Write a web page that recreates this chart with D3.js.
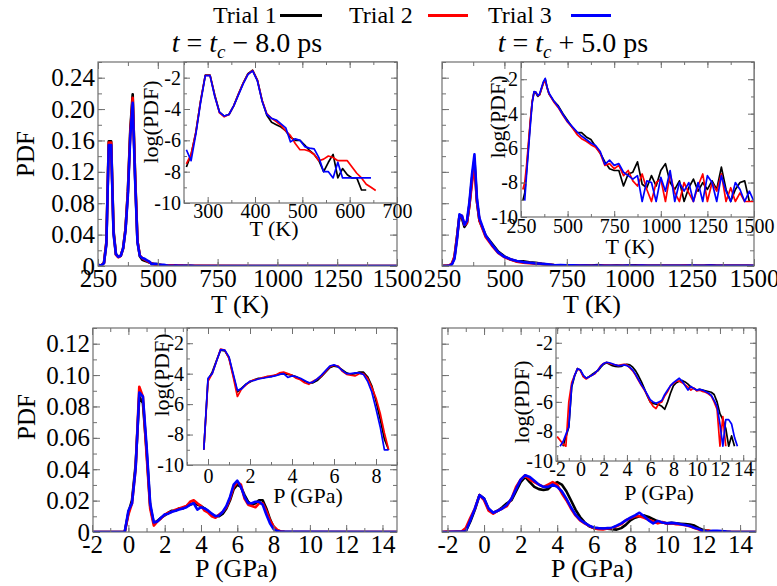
<!DOCTYPE html>
<html>
<head>
<meta charset="utf-8">
<script src="https://cdn.jsdelivr.net/npm/d3@7"></script>
<style>
  body { margin: 0; background: #fff; }
  svg { display: block; }
</style>
</head>
<body>
<div id="chart"></div>
<script>
//*************************1. Data

const trialNames = ["Trial 1", "Trial 2", "Trial 3"];
const trialColors = ["#000000", "#ff0000", "#0000ff"];
const titleShifts = ["− 8.0 ps", "+ 5.0 ps"];

// temperature bins, t = tc - 8 ps   (values are ln(PDF))
const tempGridA = [255,265,275,285,295,305,315,325,335,345,355,365,375,385,395,405,415,425,435,445,
                   455,465,475,485,495,505,515,525,535,545,555,565,575,585,595,605,615,625,635,645,655];
const lnPdfA1 = [-7.7,-6.9,-5.5,-3.5,-1.84,-1.84,-3.1,-4.2,-4.45,-4.35,-3.8,-3.05,-2.35,-1.75,-1.52,-2.15,-3.45,-4.4,-4.85,-5.0,
                 -5.15,-5.4,-5.8,-6.0,-6.0,-6.3,-6.65,-6.9,-7.3,-8.0,-7.4,-6.9,-8.4,-7.8,-8.2,-8.4,-8.4,-9.17,-9.17,null,null];
const lnPdfA2 = [-7.5,-6.9,-5.5,-3.5,-1.85,-1.85,-3.15,-4.25,-4.5,-4.35,-3.8,-3.05,-2.35,-1.77,-1.54,-2.15,-3.45,-4.3,-4.6,-4.8,
                 -5.05,-5.4,-5.7,-6.2,-6.6,-6.6,-6.7,-6.9,-7.3,-7.2,-7.0,-7.1,-7.3,-7.3,-7.3,-7.7,-8.1,-8.4,-8.8,-9.0,-9.2];
const lnPdfA3 = [-6.6,-7.3,-5.6,-3.6,-1.87,-1.87,-3.2,-4.2,-4.45,-4.35,-3.8,-3.1,-2.4,-1.8,-1.57,-2.2,-3.5,-4.35,-4.6,-4.7,
                 -4.95,-5.2,-6.1,-5.9,-6.0,-6.4,-6.5,-6.55,-7.1,-8.0,-8.0,-8.4,-7.4,-8.4,-8.4,-8.4,-8.4,-8.4,-8.4,-8.4,null];

// temperature bins, t = tc + 5 ps
const tempGridB = [260,270,280,290,300,310,320,330,340,350,360,370,380,390,400,
                   425,450,475,500,525,550,575,600,625,650,675,700,725,750,
                   775,800,825,850,875,900,925,950,975,1000,1025,1050,1075,1100,1125,1150,1175,1200,1225,1250,
                   1275,1300,1325,1350,1375,1400,1425,1450,1475,1500];
const lnPdfB1 = [-9.05,-8.6,-7.3,-5.9,-4.5,-3.3,-2.75,-2.8,-3.0,-2.9,-2.55,-2.2,-2.0,-2.5,-2.85,
                 -3.25,-3.55,-4.0,-4.4,-4.8,-5.1,-5.1,-5.35,-5.5,-5.9,-6.3,-6.8,-7.2,-7.3,
                 -7.3,-8.2,-7.5,-7.4,-6.8,-8.1,-8.3,-7.6,-8.2,-7.3,-6.9,-8.0,-8.4,-7.9,-9.1,-8.3,-7.8,-8.5,-8.0,-8.4,
                 -7.9,-8.4,-7.1,-8.4,-9.1,-8.4,-8.0,-7.9,-9.1,null];
const lnPdfB2 = [-8.4,-8.0,-7.0,-5.7,-4.4,-3.3,-2.75,-2.75,-2.95,-2.9,-2.55,-2.25,-2.05,-2.5,-2.85,
                 -3.3,-3.65,-4.1,-4.5,-4.8,-5.2,-5.45,-5.6,-5.8,-5.95,-6.3,-7.0,-6.9,-7.2,
                 -7.0,-7.6,-7.3,-7.9,-8.2,-7.5,-8.4,-9.1,-8.0,-7.8,-9.1,-7.5,-8.6,-9.1,-8.0,-8.6,-9.1,-8.2,-7.5,-9.1,
                 -8.0,-8.5,-7.5,-9.1,-8.3,-9.1,-8.6,-9.1,-9.1,-9.1];
const lnPdfB3 = [null,-9.05,-7.5,-6.1,-4.7,-3.4,-2.72,-2.75,-2.95,-2.85,-2.5,-2.15,-1.95,-2.45,-2.8,
                 -3.25,-3.6,-4.05,-4.45,-4.75,-5.05,-5.3,-5.5,-5.7,-5.85,-6.2,-6.95,-6.7,-7.0,
                 -6.9,-7.4,-7.6,-7.8,-7.6,-9.1,-7.9,-8.0,-9.1,-7.7,-8.5,-7.3,-9.1,-8.0,-8.5,-8.0,-9.1,-8.0,-9.1,-7.6,
                 -8.0,-9.1,-7.6,-8.5,-9.1,-8.0,-8.4,-9.1,-8.5,-9.1];

// pressure bins, t = tc - 8 ps
const presGridC = [-0.2,0,0.2,0.4,0.6,0.8,1,1.2,1.4,1.6,1.8,2,2.2,2.4,2.6,2.8,3,3.2,3.4,3.6,3.8,4,4.2,
                   4.4,4.6,4.8,5,5.2,5.4,5.6,5.8,6,6.2,6.4,6.6,6.8,7,7.2,7.4,7.6,7.8,8,8.2,8.4,8.6];
const lnPdfC1 = [-9.0,-4.4,-3.9,-3.15,-2.45,-2.5,-2.95,-4.1,-5.2,-4.95,-4.7,-4.55,-4.4,-4.3,-4.3,-4.2,-4.2,-4.1,-4.05,-4.0,-4.05,-4.1,-4.2,
                 -4.35,-4.5,-4.6,-4.6,-4.45,-4.2,-3.9,-3.6,-3.5,-3.55,-3.75,-3.95,-4.05,-4.0,-3.9,-3.9,-4.2,-4.8,-5.8,-7.0,-8.3,-9.0];
const lnPdfC2 = [-9.0,-4.5,-4.0,-3.2,-2.38,-2.45,-3.0,-4.2,-5.5,-5.0,-4.75,-4.5,-4.4,-4.35,-4.25,-4.2,-4.15,-4.1,-3.95,-3.9,-4.0,-4.1,-4.3,
                 -4.4,-4.6,-4.7,-4.5,-4.35,-4.15,-3.85,-3.55,-3.45,-3.5,-3.85,-4.05,-4.1,-4.15,-4.0,-4.0,-4.3,-4.9,-5.6,-6.6,-7.9,-9.0];
const lnPdfC3 = [-9.0,-4.3,-4.0,-3.2,-2.42,-2.45,-2.9,-4.0,-5.1,-5.0,-4.7,-4.5,-4.45,-4.35,-4.3,-4.25,-4.2,-4.15,-4.05,-4.0,-4.25,-4.15,-4.2,
                 -4.3,-4.45,-4.6,-4.55,-4.35,-4.1,-3.8,-3.5,-3.42,-3.55,-3.8,-4.0,-4.0,-3.95,-3.95,-4.05,-4.5,-5.2,-6.3,-7.5,-9.0,-9.0];

// pressure bins, t = tc + 5 ps
const presGridD = [-2,-1.75,-1.5,-1.25,-1,-0.75,-0.5,-0.25,0,0.25,0.5,0.75,1,1.25,1.5,1.75,2,2.25,2.5,2.75,3,3.25,3.5,3.75,
                   4,4.25,4.5,4.75,5,5.25,5.5,5.75,6,6.25,6.5,6.75,7,7.25,7.5,7.75,8,8.25,8.5,8.75,9,9.25,9.5,9.75,
                   10,10.25,10.5,10.75,11,11.25,11.5,11.75,12,12.25,12.5,12.75,13,13.25,13.5];
const lnPdfD1 = [null,null,-9.0,-8.4,-7.7,-5.0,-4.25,-3.75,-3.85,-4.25,-4.4,-4.3,-4.15,-4.0,-3.9,-3.65,-3.45,-3.35,-3.45,-3.55,-3.6,-3.62,-3.6,-3.5,
                 -3.45,-3.5,-3.65,-3.9,-4.25,-4.65,-5.1,-5.6,-6.0,-6.1,-6.15,-6.2,-6.3,-6.5,-6.0,-5.4,-4.9,-4.7,-4.6,-4.55,-4.65,-4.8,-5.0,-5.1,
                 -5.2,-5.15,-5.2,-5.25,-5.3,-5.35,-5.5,-6.0,-6.8,-7.2,-7.8,-9.0,-8.3,-9.0,null];
const lnPdfD2 = [-8.35,-8.6,-8.85,-9.0,-6.0,-4.7,-4.2,-3.75,-3.9,-4.3,-4.45,-4.3,-4.2,-4.1,-3.85,-3.55,-3.4,-3.32,-3.4,-3.45,-3.5,-3.55,-3.5,-3.45,
                 -3.5,-3.7,-3.9,-4.2,-4.55,-4.9,-5.2,-5.55,-6.0,-6.3,-6.45,-6.1,-6.0,-5.6,-5.3,-4.9,-4.75,-4.6,-4.6,-4.7,-4.85,-5.0,-5.2,-5.05,
                 -5.25,-5.2,-5.3,-5.35,-5.45,-5.6,-6.0,-6.5,-9.0,-7.0,-9.0,null,null,null,null];
const lnPdfD3 = [null,-9.0,-8.7,-8.2,-7.7,-4.9,-4.2,-3.75,-3.85,-4.2,-4.4,-4.3,-4.2,-4.05,-3.85,-3.6,-3.4,-3.32,-3.35,-3.42,-3.5,-3.55,-3.55,-3.5,
                 -3.55,-3.65,-3.85,-4.15,-4.5,-4.85,-5.15,-5.5,-5.85,-6.0,-6.1,-6.0,-5.9,-5.5,-5.2,-4.9,-4.7,-4.55,-4.4,-4.6,-4.9,-5.2,-4.95,-5.1,
                 -5.2,-5.15,-5.2,-5.3,-5.4,-5.55,-5.9,-6.3,-7.5,-9.0,-7.2,-7.2,-7.5,-8.4,-9.0];

// tick labels
const tempTicksMain = [250, 500, 750, 1000, 1250, 1500];
const tempTicksInsetA = [300, 400, 500, 600, 700];
const tempTicksInsetB = [250, 500, 750, 1000, 1250, 1500];
const presTicksMain = [-2, 0, 2, 4, 6, 8, 10, 12, 14];
const presTicksInsetC = [0, 2, 4, 6, 8];
const presTicksInsetD = [-2, 0, 2, 4, 6, 8, 10, 12, 14];
const pdfTicksTop = [0, 0.04, 0.08, 0.12, 0.16, 0.20, 0.24];
const pdfTicksBottom = [0, 0.02, 0.04, 0.06, 0.08, 0.10, 0.12];
const logTicks = [-10, -8, -6, -4, -2];

//*************************2. Layout

const panels = [
  { grid: tempGridA, series: [lnPdfA1, lnPdfA2, lnPdfA3], xTitle: "T (K)", yTitle: true,
    main: { x0: 98, x1: 397, y0: 62, y1: 266, xDom: [250, 1500], yDom: [0, 0.26],
            xTicks: tempTicksMain, xMinor: [250, 1500, 125], yTicks: pdfTicksTop, yMinor: [0, 0.26, 0.02],
            yLabels: true, xPad: 3, titleX: 240, titleY: 313, yTitleX: 25, yTitleY: 154 },
    inset: { x0: 184, x1: 397, y0: 62, y1: 203, xDom: [250, 700], yDom: [-10, -1],
             xTicks: tempTicksInsetA, xMinor: [250, 700, 50], yTicks: logTicks, yMinor: [-10, -1, 1],
             xPad: 1, titleX: 274, titleY: 236, yTitleX: 150, yTitleY: 122 } },
  { grid: tempGridB, series: [lnPdfB1, lnPdfB2, lnPdfB3], xTitle: "T (K)", yTitle: false,
    main: { x0: 442, x1: 754, y0: 62, y1: 266, xDom: [250, 1500], yDom: [0, 0.26],
            xTicks: tempTicksMain, xMinor: [250, 1500, 125], yTicks: pdfTicksTop, yMinor: [0, 0.26, 0.02],
            yLabels: false, xPad: 3, titleX: 592, titleY: 313 },
    inset: { x0: 521, x1: 754, y0: 62, y1: 217, xDom: [250, 1500], yDom: [-10, -1],
             xTicks: tempTicksInsetB, xMinor: [250, 1500, 125], yTicks: logTicks, yMinor: [-10, -1, 1],
             xPad: 2, titleX: 630, titleY: 254, yTitleX: 497, yTitleY: 117 } },
  { grid: presGridC, series: [lnPdfC1, lnPdfC2, lnPdfC3], xTitle: "P (GPa)", yTitle: true,
    main: { x0: 93, x1: 397, y0: 328, y1: 532, xDom: [-1.95, 14.8], yDom: [0, 0.13],
            xTicks: presTicksMain, xMinor: [-1, 14, 1], yTicks: pdfTicksBottom, yMinor: [0, 0.13, 0.01],
            yLabels: true, xPad: 3, titleX: 236, titleY: 577, yTitleX: 26, yTitleY: 417 },
    inset: { x0: 187, x1: 397, y0: 328, y1: 465, xDom: [-1, 9], yDom: [-10, -1],
             xTicks: presTicksInsetC, xMinor: [-1, 9, 1], yTicks: logTicks, yMinor: [-10, -1, 1],
             xPad: 4, titleX: 308, titleY: 503, yTitleX: 161, yTitleY: 375 } },
  { grid: presGridD, series: [lnPdfD1, lnPdfD2, lnPdfD3], xTitle: "P (GPa)", yTitle: false,
    main: { x0: 442, x1: 756, y0: 328, y1: 532, xDom: [-2.3, 14.87], yDom: [0, 0.13],
            xTicks: presTicksMain, xMinor: [-2, 14, 1], yTicks: pdfTicksBottom, yMinor: [0, 0.13, 0.01],
            yLabels: false, xPad: 3, titleX: 592, titleY: 577 },
    inset: { x0: 556, x1: 756, y0: 328, y1: 461, xDom: [-2.1, 15.1], yDom: [-10, -1],
             xTicks: presTicksInsetD, xMinor: [-2, 15, 1], yTicks: logTicks, yMinor: [-10, -1, 1],
             xPad: 1, titleX: 659, titleY: 500, yTitleX: 521, yTitleY: 402 } }
];

const frameColor = "#707070";
const serifFont = "'Liberation Serif', 'Times New Roman', serif";

//*************************3. Canvas

const svg = d3.select("#chart").append("svg")
  .attr("width", 777)
  .attr("height", 586)
  .style("font-family", serifFont);

const defs = svg.append("defs");
let clipCount = 0;

const plain = d => String(d);
const pdfFmt = d => d === 0 ? "0" : d.toFixed(2);

function minorValues(m) {
  return d3.range(m[0], m[1] + m[2] * 0.01, m[2]);
}

function styleAxis(g, fs) {
  g.attr("font-family", null).attr("font-size", null);
  g.select(".domain").remove();
  g.selectAll(".tick line").attr("stroke", frameColor).attr("stroke-width", 1);
  g.selectAll("text").style("font-size", fs + "px");
}

// frame with inward ticks on all four sides
function drawFrame(g, xs, ys, box, o) {
  const major = o.major, minor = o.minor;
  g.append("rect")
    .attr("x", box.x0).attr("y", box.y0)
    .attr("width", box.x1 - box.x0).attr("height", box.y1 - box.y0)
    .attr("fill", "#fff").attr("stroke", "none");
  return function ticks() {
    const xMin = minorValues(box.xMinor), yMin = minorValues(box.yMinor);
    const sides = [
      [d3.axisBottom(xs).tickValues(box.xTicks).tickSize(-major).tickPadding(box.xPad).tickFormat(plain), 0, box.y1],
      [d3.axisBottom(xs).tickValues(xMin).tickSize(-minor).tickFormat(""), 0, box.y1],
      [d3.axisTop(xs).tickValues(box.xTicks).tickSize(-major).tickFormat(""), 0, box.y0],
      [d3.axisTop(xs).tickValues(xMin).tickSize(-minor).tickFormat(""), 0, box.y0],
      [d3.axisLeft(ys).tickValues(box.yTicks).tickSize(-major).tickPadding(3)
         .tickFormat(o.yLabels ? o.yFmt : ""), box.x0, 0],
      [d3.axisLeft(ys).tickValues(yMin).tickSize(-minor).tickFormat(""), box.x0, 0],
      [d3.axisRight(ys).tickValues(box.yTicks).tickSize(-major).tickFormat(""), box.x1, 0],
      [d3.axisRight(ys).tickValues(yMin).tickSize(-minor).tickFormat(""), box.x1, 0]
    ];
    sides.forEach(([ax, tx, ty]) => {
      const a = g.append("g").attr("transform", `translate(${tx},${ty})`).call(ax);
      styleAxis(a, o.fs);
    });
    g.append("rect")
      .attr("x", box.x0).attr("y", box.y0)
      .attr("width", box.x1 - box.x0).attr("height", box.y1 - box.y0)
      .attr("fill", "none").attr("stroke", frameColor).attr("stroke-width", 1.2);
  };
}

function clipFor(box) {
  const id = "clip" + (clipCount++);
  defs.append("clipPath").attr("id", id).append("rect")
    .attr("x", box.x0).attr("y", box.y0)
    .attr("width", box.x1 - box.x0).attr("height", box.y1 - box.y0);
  return `url(#${id})`;
}

function rotatedLabel(x, y, txt, fs) {
  svg.append("text")
    .attr("transform", `translate(${x},${y}) rotate(-90)`)
    .attr("text-anchor", "middle")
    .attr("dy", "0.35em")
    .style("font-size", fs + "px")
    .text(txt);
}

//*************************4. Panels

panels.forEach(p => {
  const m = p.main, ins = p.inset;

  // main plot
  const xMain = d3.scaleLinear().domain(m.xDom).range([m.x0, m.x1]);
  const yMain = d3.scaleLinear().domain(m.yDom).range([m.y1, m.y0]);
  const gMain = svg.append("g");
  const mainTicks = drawFrame(gMain, xMain, yMain, m,
    { major: 7, minor: 4, fs: 25, yLabels: m.yLabels, yFmt: pdfFmt });

  const mainLine = d3.line().x(d => xMain(d.x)).y(d => yMain(d.y));
  const gMainLines = gMain.append("g").attr("clip-path", clipFor(m));
  p.series.forEach((vals, k) => {
    const pts = p.grid.map((x, i) => ({ x: x, y: vals[i] === null ? 0 : Math.exp(vals[i]) }));
    const full = [{ x: m.xDom[0], y: 0 }, ...pts, { x: m.xDom[1], y: 0 }];
    gMainLines.append("path")
      .attr("d", mainLine(full))
      .attr("fill", "none")
      .attr("stroke", trialColors[k])
      .attr("stroke-width", 2.6)
      .attr("stroke-linejoin", "round");
  });
  mainTicks();

  // inset plot: log(PDF)
  const xIn = d3.scaleLinear().domain(ins.xDom).range([ins.x0, ins.x1]);
  const yIn = d3.scaleLinear().domain(ins.yDom).range([ins.y1, ins.y0]);
  const gIn = svg.append("g");
  const inTicks = drawFrame(gIn, xIn, yIn, ins,
    { major: 6, minor: 3, fs: 20, yLabels: true, yFmt: plain });

  const inLine = d3.line()
    .defined(d => d.v !== null)
    .x(d => xIn(d.x)).y(d => yIn(d.v));
  const gInLines = gIn.append("g").attr("clip-path", clipFor(ins));
  p.series.forEach((vals, k) => {
    gInLines.append("path")
      .attr("d", inLine(p.grid.map((x, i) => ({ x: x, v: vals[i] }))))
      .attr("fill", "none")
      .attr("stroke", trialColors[k])
      .attr("stroke-width", 1.7)
      .attr("stroke-linejoin", "round");
  });
  inTicks();

  // axis titles
  svg.append("text").attr("x", m.titleX).attr("y", m.titleY)
    .attr("text-anchor", "middle").style("font-size", "26px").text(p.xTitle);
  svg.append("text").attr("x", ins.titleX).attr("y", ins.titleY)
    .attr("text-anchor", "middle").style("font-size", "22px").text(p.xTitle);
  rotatedLabel(ins.yTitleX, ins.yTitleY, "log(PDF)", 22);
  if (p.yTitle) rotatedLabel(m.yTitleX, m.yTitleY, "PDF", 25);
});

//*************************5. Titles and legend

const titlePos = [[247, 52], [573, 52]];
titleShifts.forEach((s, i) => {
  const t = svg.append("text")
    .attr("x", titlePos[i][0]).attr("y", titlePos[i][1])
    .attr("text-anchor", "middle")
    .style("font-size", "28px")
    .style("white-space", "pre");
  t.append("tspan").style("font-style", "italic").text("t");
  t.append("tspan").text(" = ");
  t.append("tspan").style("font-style", "italic").text("t");
  t.append("tspan").style("font-style", "italic").style("font-size", "19px").attr("dy", 6).text("c");
  t.append("tspan").attr("dy", -6).text(" " + s);
});

const legendPos = [[213, 280, 322], [349, 428, 468], [488, 571, 611]];
trialNames.forEach((name, i) => {
  const [tx, l0, l1] = legendPos[i];
  svg.append("text").attr("x", tx).attr("y", 23).style("font-size", "24px").text(name);
  svg.append("line")
    .attr("x1", l0).attr("x2", l1).attr("y1", 15.5).attr("y2", 15.5)
    .attr("stroke", trialColors[i]).attr("stroke-width", 3.2);
});

svg.selectAll("text").style("font-family", serifFont).attr("fill", "#000");
</script>
</body>
</html>
